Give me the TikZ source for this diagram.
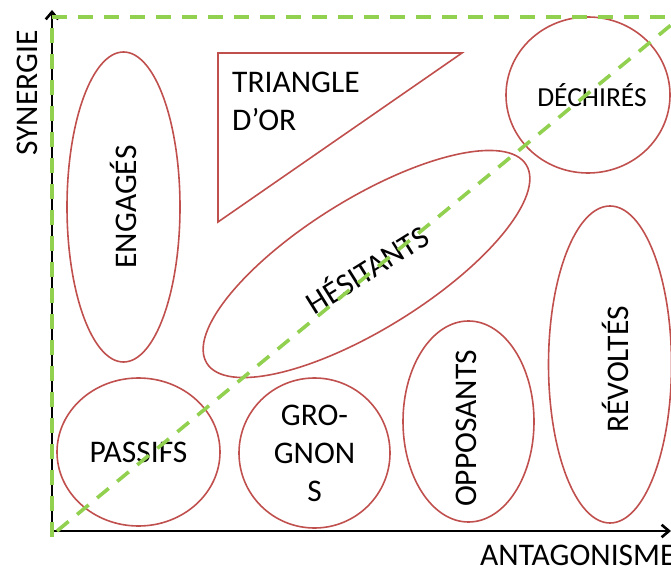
\documentclass[tikz,border=0pt]{standalone}
\usepackage{fontspec}
\setmainfont{Carlito}
\usepackage{tikz}
\usetikzlibrary{arrows.meta,shapes.geometric}

\definecolor{zonered}{RGB}{192,80,77}
\definecolor{diaggreen}{RGB}{146,208,80}

\begin{document}
\begin{tikzpicture}[
  x=1pt, y=1pt,
  zone/.style={draw=zonered, line width=1.6pt, ellipse, inner sep=0pt},
  lbl/.style={font=\fontsize{31.5}{38}\selectfont, inner sep=0pt, align=center},
  axis/.style={line width=2.6pt, -{Straight Barb[length=2.6mm, width=4.4mm]}},
  diag/.style={diaggreen, line width=3.6pt, dash pattern=on 15pt off 11pt}]

  \useasboundingbox (0,0) rectangle (671,571);

  % axes
  \coordinate (O) at (52,40);
  \coordinate (ytop) at (52,561);
  \coordinate (xend) at (671,40);
  \draw[axis] (O) -- (ytop);
  \draw[axis] (O) -- (xend);
  \node[lbl, rotate=90] (syn) at (27,478) {SYNERGIE};
  \node[lbl, anchor=base west] (ant) at (480,6) {ANTAGONISME};

  % zones
  \node[zone, minimum width=113, minimum height=310] (eng) at (123.5,364) {};
  \node[lbl, rotate=90] at (eng.center) {ENGAGÉS};

  \coordinate (t1) at (218,518);
  \coordinate (t2) at (462,518);
  \coordinate (t3) at (218,349);
  \draw[zonered, line width=1.6pt, line join=miter] (t1) -- (t2) -- (t3) -- cycle;
  \node[lbl, align=left, anchor=north west] (tri) at (232,499) {TRIANGLE\\D’OR};

  \node[zone, minimum width=164, minimum height=156] (dech) at (588,476) {};
  \node[lbl, font=\fontsize{27.5}{32}\selectfont] at ([xshift=4pt]dech.center) {DÉCHIRÉS};

  \node[zone, minimum width=376, minimum height=130, rotate=31.85] (hes) at (366.5,307) {};
  \node[lbl, rotate=32] at ([yshift=-4pt]hes.center) {HÉSITANTS};

  \node[zone, minimum width=163, minimum height=148] (pas) at (138.5,119) {};
  \node[lbl] at (pas.center) {PASSIFS};

  \node[zone, minimum width=151, minimum height=150] (gro) at (314.5,118) {};
  \node[lbl] at (gro.center) {GRO-\\GNON\\S};

  \node[zone, minimum width=131, minimum height=201] (opp) at (468.5,149.5) {};
  \node[lbl, rotate=90] at ([xshift=-2pt, yshift=-7pt]opp.center) {OPPOSANTS};

  \node[zone, minimum width=123, minimum height=317] (rev) at (610,206.5) {};
  \node[lbl, rotate=90] at ([xshift=5pt, yshift=-5pt]rev.center) {RÉVOLTÉS};

  % green dashed frame and diagonal
  \coordinate (gbot) at (52,34);
  \coordinate (gtop) at (52,554);
  \coordinate (gright) at (671,554);
  \coordinate (dstart) at (57,40);
  \coordinate (dend) at (671,546);
  \draw[diag] (gbot) -- (gtop) -- (gright);
  \draw[diag] (dstart) -- (dend);
\end{tikzpicture}
\end{document}
